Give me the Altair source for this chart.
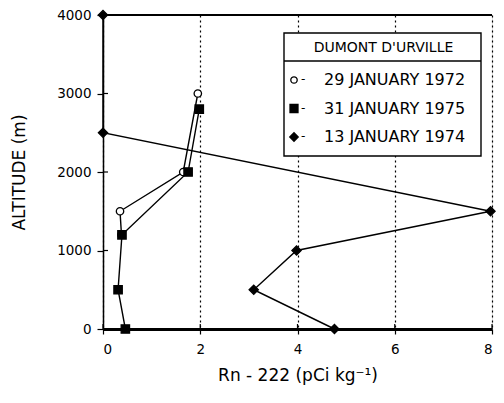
import altair as alt
import pandas as pd

# --- data ---
series_names = ["29 JANUARY 1972", "31 JANUARY 1975", "13 JANUARY 1974"]
alt_1972 = [3000, 2000, 1500, 1200]
rn_1972 = [1.95, 1.65, 0.35, 0.38]
alt_1975 = [2800, 2000, 1200, 500, 0]
rn_1975 = [1.98, 1.75, 0.39, 0.31, 0.46]
alt_1974 = [4000, 2500, 1500, 1000, 500, 0]
rn_1974 = [0.0, 0.0, 7.97, 3.98, 3.1, 4.76]
x_ticks = [0, 2, 4, 6, 8]
y_ticks = [0, 1000, 2000, 3000, 4000]
legend_title = "DUMONT D'URVILLE"

shapes = ["circle", "square", "diamond"]
fills = ["white", "black", "black"]
sizes = [55, 85, 95]

W, H = 389, 314

rows = []
for name, alts, rns in zip(series_names, [alt_1972, alt_1975, alt_1974], [rn_1972, rn_1975, rn_1974]):
    for i, (a, r) in enumerate(zip(alts, rns)):
        rows.append({"series": name, "altitude": a, "rn": r, "order": i})
df = pd.DataFrame(rows)
ydf = pd.DataFrame({"y": y_ticks})
xdf = pd.DataFrame({"x": x_ticks})
one = pd.DataFrame({"a": [0]})

FONT = "DejaVu Sans"

xscale = alt.Scale(domain=[0, 8], nice=False, zero=False)
yscale = alt.Scale(domain=[0, 4000], nice=False, zero=False)

x_enc = alt.X("rn:Q", scale=xscale,
              axis=alt.Axis(values=x_ticks, title="Rn - 222 (pCi kg⁻¹)", grid=True,
                            gridDash=[2, 3], gridColor="black", gridWidth=1.2,
                            domainColor="black", domainWidth=3, tickColor="black",
                            tickSize=5, tickWidth=1.2, labelFontSize=13.5, titleFontSize=17,
                            titleFontWeight="normal", labelPadding=8, titlePadding=12,
                            labelColor="black", titleColor="black"))
y_enc = alt.Y("altitude:Q", scale=yscale,
              axis=alt.Axis(values=y_ticks, title="ALTITUDE (m)", grid=False,
                            domainColor="black", domainWidth=1.5, tickColor="black",
                            tickSize=6, tickWidth=1.2, labelFontSize=13.5, titleFontSize=17,
                            titleFontWeight="normal", labelPadding=6, titlePadding=28,
                            labelColor="black", titleColor="black", format="d"))

lines = alt.Chart(df).mark_line(color="black", strokeWidth=1.4).encode(
    x=x_enc, y=y_enc, detail="series:N", order="order:Q")

points = alt.Chart(df).mark_point(filled=True, stroke="black", strokeWidth=1.3, opacity=1).encode(
    x="rn:Q", y="altitude:Q",
    shape=alt.Shape("series:N", scale=alt.Scale(domain=series_names, range=shapes), legend=None),
    fill=alt.Fill("series:N", scale=alt.Scale(domain=series_names, range=fills), legend=None),
    size=alt.Size("series:N", scale=alt.Scale(domain=series_names, range=sizes), legend=None),
)

inner_yticks = alt.Chart(ydf).mark_rule(color="black", strokeWidth=1.2).encode(
    y=alt.Y("y:Q", scale=yscale), x=alt.value(0), x2=alt.value(5))
inner_xticks = alt.Chart(xdf).mark_rule(color="black", strokeWidth=1.2).encode(
    x=alt.X("x:Q", scale=xscale), y=alt.value(H - 5), y2=alt.value(H))

top = alt.Chart(one).mark_rule(color="black", strokeWidth=2).encode(
    x=alt.value(0), x2=alt.value(W), y=alt.value(0))

# --- legend box drawn by hand ---
LX0, LX1 = 181, 378
box = alt.Chart(one).mark_rect(fill="white", stroke="black", strokeWidth=1.4).encode(
    x=alt.value(LX0), x2=alt.value(LX1), y=alt.value(18), y2=alt.value(141))
sep = alt.Chart(one).mark_rule(color="black", strokeWidth=1.4).encode(
    x=alt.value(LX0), x2=alt.value(LX1), y=alt.value(46))
ltitle = alt.Chart(one).mark_text(fontSize=14, font=FONT, color="black", align="center",
                                  baseline="middle").encode(
    x=alt.value((LX0 + LX1) / 2 + 1), y=alt.value(33), text=alt.value(legend_title))

leg_layers = [box, sep, ltitle]
for i, name in enumerate(series_names):
    yy = 65 + 28.5 * i
    leg_layers.append(alt.Chart(one).mark_point(shape=shapes[i], filled=True, fill=fills[i],
                                                stroke="black", strokeWidth=1.3, size=sizes[i] * 0.75,
                                                opacity=1).encode(
        x=alt.value(LX0 + 10), y=alt.value(yy)))
    leg_layers.append(alt.Chart(one).mark_text(fontSize=12, font=FONT, color="black", align="left",
                                               baseline="middle").encode(
        x=alt.value(LX0 + 17), y=alt.value(yy - 1), text=alt.value("-")))
    leg_layers.append(alt.Chart(one).mark_text(fontSize=16, font=FONT, color="black", align="left",
                                               baseline="middle").encode(
        x=alt.value(LX0 + 40), y=alt.value(yy), text=alt.value(name)))

chart = alt.layer(lines, points, inner_yticks, inner_xticks, top, *leg_layers).properties(
    width=W, height=H,
    autosize=alt.AutoSizeParams(type="none"),
    padding={"left": 95, "top": 7, "right": 4, "bottom": 63},
).configure_view(stroke="black", strokeWidth=1.5).configure(font=FONT)

chart.save("out.html", embed_options={"renderer": "svg", "actions": False})
